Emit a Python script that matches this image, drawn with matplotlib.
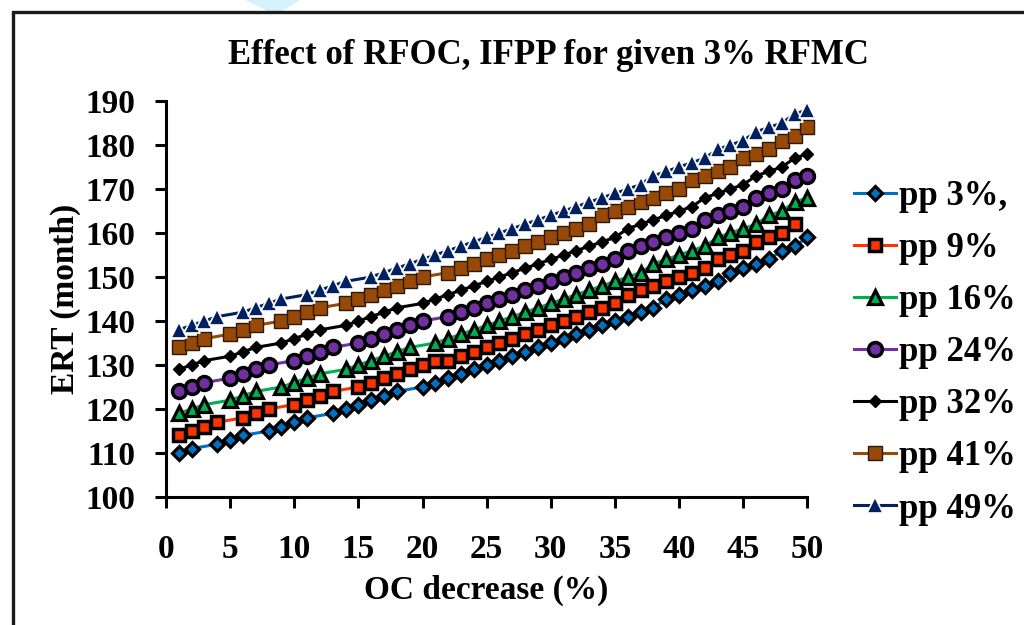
import matplotlib.pyplot as plt
from matplotlib.patches import Rectangle, Polygon

# ERT (month) against OC decrease (%) for each pp level
x_pp3 = [1, 2, 4, 5, 6, 8, 9, 10, 11, 13, 14, 15, 16, 17, 18, 20, 21, 22, 23, 24, 25,
         26, 27, 28, 29, 30, 31, 32, 33, 34, 35, 36, 37, 38, 39, 40, 41, 42, 43, 44, 45,
         46, 47, 48, 49, 50]
y_pp3 = [110, 111, 112, 113, 114, 115, 116, 117, 118, 119, 120, 121, 122, 123, 124, 125,
         126, 127, 128, 129, 130, 131, 132, 133, 134, 135, 136, 137, 138, 139, 140, 141,
         142, 143, 145, 146, 147, 148, 149, 151, 152, 153, 154, 156, 157, 159]

x_pp9 = [1, 2, 3, 4, 6, 7, 8, 10, 11, 12, 13, 15, 16, 17, 18, 19, 20, 21, 22, 23, 24, 25,
         26, 27, 28, 29, 30, 31, 32, 33, 34, 35, 36, 37, 38, 39, 40, 41, 42, 43, 44, 45,
         46, 47, 48, 49]
y_pp9 = [114, 115, 116, 117, 118, 119, 120, 121, 122, 123, 124, 125, 126, 127, 128, 129,
         130, 131, 131, 132, 133, 134, 135, 136, 137, 138, 139, 140, 141, 142, 143, 144,
         146, 147, 148, 149, 150, 151, 152, 154, 155, 156, 158, 159, 160, 162]

x_pp16 = [1, 2, 3, 5, 6, 7, 9, 10, 11, 12, 14, 15, 16, 17, 18, 19, 21, 22, 23, 24, 25,
          26, 27, 28, 29, 30, 31, 32, 33, 34, 35, 36, 37, 38, 39, 40, 41, 42, 43, 44, 45,
          46, 47, 48, 49, 50]
y_pp16 = [119, 120, 121, 122, 123, 124, 125, 126, 127, 128, 129, 130, 131, 132, 133, 134,
          135, 136, 137, 138, 139, 140, 141, 142, 143, 144, 145, 146, 147, 148, 149, 150,
          151, 153, 154, 155, 156, 157, 159, 160, 161, 162, 164, 165, 167, 168]

x_pp24 = [1, 2, 3, 5, 6, 7, 8, 10, 11, 12, 13, 15, 16, 17, 18, 19, 20, 22, 23, 24, 25,
          26, 27, 28, 29, 30, 31, 32, 33, 34, 35, 36, 37, 38, 39, 40, 41, 42, 43, 44, 45,
          46, 47, 48, 49, 50]
y_pp24 = [124, 125, 126, 127, 128, 129, 130, 131, 132, 133, 134, 135, 136, 137, 138, 139,
          140, 141, 142, 143, 144, 145, 146, 147, 148, 149, 150, 151, 152, 153, 154, 156,
          157, 158, 159, 160, 161, 163, 164, 165, 166, 168, 169, 170, 172, 173]

x_pp32 = [1, 2, 3, 5, 6, 7, 9, 10, 11, 12, 14, 15, 16, 17, 18, 20, 21, 22, 23, 24, 25,
          26, 27, 28, 29, 30, 31, 32, 33, 34, 35, 36, 37, 38, 39, 40, 41, 42, 43, 44, 45,
          46, 47, 48, 49, 50]
y_pp32 = [129, 130, 131, 132, 133, 134, 135, 136, 137, 138, 139, 140, 141, 142, 143, 144,
          145, 146, 147, 148, 149, 150, 151, 152, 153, 154, 155, 156, 157, 158, 159, 161,
          162, 163, 164, 165, 166, 168, 169, 170, 171, 173, 174, 175, 177, 178]

x_pp41 = [1, 2, 3, 5, 6, 7, 9, 10, 11, 12, 14, 15, 16, 17, 18, 19, 20, 22, 23, 24, 25,
          26, 27, 28, 29, 30, 31, 32, 33, 34, 35, 36, 37, 38, 39, 40, 41, 42, 43, 44, 45,
          46, 47, 48, 49, 50]
y_pp41 = [134, 135, 136, 137, 138, 139, 140, 141, 142, 143, 144, 145, 146, 147, 148, 149,
          150, 151, 152, 153, 154, 155, 156, 157, 158, 159, 160, 161, 162, 164, 165, 166,
          167, 168, 169, 170, 172, 173, 174, 175, 177, 178, 179, 181, 182, 184]

x_pp49 = [1, 2, 3, 4, 6, 7, 8, 9, 11, 12, 13, 14, 16, 17, 18, 19, 20, 21, 22, 23, 24, 25,
          26, 27, 28, 29, 30, 31, 32, 33, 34, 35, 36, 37, 38, 39, 40, 41, 42, 43, 44, 45,
          46, 47, 48, 49, 50]
y_pp49 = [138, 139, 140, 141, 142, 143, 144, 145, 146, 147, 148, 149, 150, 151, 152, 153,
          154, 155, 156, 157, 158, 159, 160, 161, 162, 163, 164, 165, 166, 167, 168, 169,
          170, 171, 173, 174, 175, 176, 177, 179, 180, 181, 183, 184, 185, 187, 188]

labels = ["pp 3%,", "pp 9%", "pp 16%", "pp 24%", "pp 32%", "pp 41%", "pp 49%"]
x_ticks = [0, 5, 10, 15, 20, 25, 30, 35, 40, 45, 50]
y_ticks = [100, 110, 120, 130, 140, 150, 160, 170, 180, 190]

# line colour, marker, face colour, edge colour, marker size, edge width
styles = [
    ("#0070C0", "D", "#0070C0", "black", 7.0, 2.3),
    ("#FF3300", "s", "#FF3300", "black", 9.0, 2.5),
    ("#00B050", "^", "#00B050", "black", 9.5, 2.3),
    ("#7030A0", "o", "#7030A0", "black", 10.0, 2.5),
    ("black", "D", "black", "black", 6.0, 1.0),
    ("#984807", "s", "#984807", "#2a1a0a", 9.5, 1.0),
    ("#002060", "^", "#002060", "white", 11.0, 1.2),
]

series = [(x_pp3, y_pp3), (x_pp9, y_pp9), (x_pp16, y_pp16), (x_pp24, y_pp24),
          (x_pp32, y_pp32), (x_pp41, y_pp41), (x_pp49, y_pp49)]

plt.rcParams['font.family'] = ['Liberation Serif', 'DejaVu Serif']
plt.rcParams['font.weight'] = 'bold'

fig = plt.figure(figsize=(10.24, 6.25), dpi=100)
ax = fig.add_axes([0.162, 0.2048, 0.6265, 0.6336])

handles = []
for (xs, ys), lab, (lc, mk, fc, ec, ms, mew) in zip(series, labels, styles):
    h, = ax.plot(xs, ys, color=lc, lw=2.2, marker=mk, markersize=ms,
                 markerfacecolor=fc, markeredgecolor=ec, markeredgewidth=mew,
                 label=lab, clip_on=False)
    handles.append(h)

ax.set_xlim(0, 50)
ax.set_ylim(100, 190)
ax.set_xticks(x_ticks)
ax.set_yticks(y_ticks)
for side in ["top", "right"]:
    ax.spines[side].set_visible(False)
for side in ["left", "bottom"]:
    ax.spines[side].set_linewidth(2.2)
ax.tick_params(axis="both", direction="out", length=8, width=2.2, labelsize=24)
ax.tick_params(axis="x", pad=19)
ax.tick_params(axis="y", pad=14)
for t in ax.get_xticklabels() + ax.get_yticklabels():
    t.set_fontweight("bold")

ax.set_xlabel("OC decrease (%)", fontsize=24, fontweight="bold", labelpad=7)
ax.set_ylabel("ERT (month)", fontsize=24, fontweight="bold", labelpad=3)

fig.text(0.536, 0.912, "Effect of RFOC, IFPP for given 3% RFMC",
         ha="center", va="center", fontsize=25, fontweight="bold")

leg = fig.legend(handles=handles, loc="upper left", bbox_to_anchor=(0.834, 0.712),
                 frameon=False, fontsize=25, handlelength=1.2, handletextpad=0.1,
                 labelspacing=0.55, borderaxespad=0, borderpad=0)
for t in leg.get_texts():
    t.set_fontweight("bold")

# faint mark peeking in at the top edge
fig.patches.append(Polygon([(245 / 1024, 1.0), (300 / 1024, 1.0), (282 / 1024, 0.982),
                            (268 / 1024, 0.982)], closed=True,
                           transform=fig.transFigure, facecolor="#d6f2fc",
                           edgecolor="none", zorder=0))

# chart border, cut off at the right and bottom edges
fig.patches.append(Rectangle((13 / 1024, -0.1), 1.2, 0.1 + (625 - 12) / 625,
                             transform=fig.transFigure, fill=False,
                             edgecolor="#1a1a1a", lw=2.4))

fig.savefig("out.png", dpi=100)
